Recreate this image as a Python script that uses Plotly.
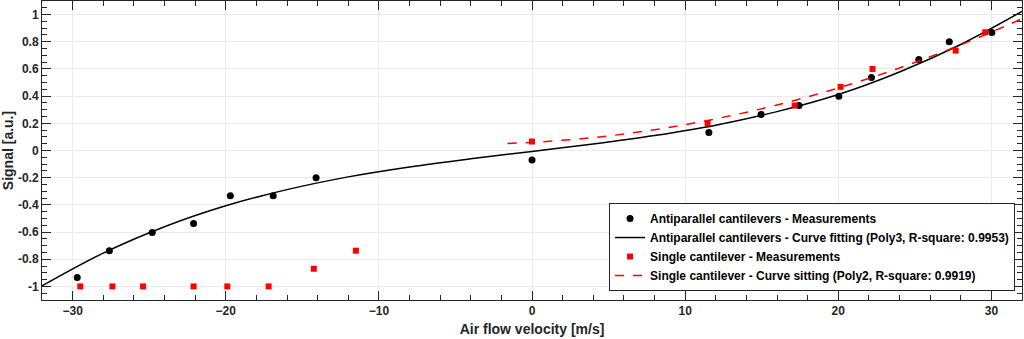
import plotly.graph_objects as go

# Antiparallel cantilevers - measurements
anti_x = [-29.7, -27.6, -24.8, -22.1, -19.7, -16.9, -14.1, 0.0,
          11.55, 14.96, 17.44, 20.04, 22.17, 25.26, 27.25, 30.03]
anti_y = [-0.935, -0.737, -0.603, -0.537, -0.333, -0.333, -0.201, -0.069,
          0.132, 0.265, 0.331, 0.400, 0.537, 0.669, 0.800, 0.868]

# Single cantilever - measurements
single_x = [-29.5, -27.4, -25.4, -22.1, -19.9, -17.2, -14.25, -11.5,
            0.0, 11.47, 17.15, 20.15, 22.24, 27.67, 29.6]
single_y = [-1.0, -1.0, -1.0, -1.0, -1.0, -1.0, -0.87, -0.737,
            0.066, 0.200, 0.331, 0.468, 0.600, 0.735, 0.870]

# Antiparallel cantilevers - fitted curve (Poly3)
anti_fit_x = [-32, -28, -24, -20, -16, -12, -8, -4, 0, 4, 8, 12, 16, 20, 24, 28, 32]
anti_fit_y = [-0.996, -0.755, -0.561, -0.407, -0.288, -0.194, -0.121, -0.061, -0.007,
              0.048, 0.11, 0.186, 0.286, 0.412, 0.578, 0.78, 1.023]

# Single cantilever - fitted curve (Poly2)
single_fit_x = [-1.6, 0, 4, 8, 12, 16, 20, 24, 28, 32]
single_fit_y = [0.052, 0.06, 0.095, 0.153, 0.233, 0.335, 0.46, 0.607, 0.777, 0.969]

x_ticks = [-30, -20, -10, 0, 10, 20, 30]
y_ticks = [-1, -0.8, -0.6, -0.4, -0.2, 0, 0.2, 0.4, 0.6, 0.8, 1]
y_tick_labels = ["-1", "-0.8", "-0.6", "-0.4", "-0.2", "0", "0.2", "0.4", "0.6", "0.8", "1"]

names = [
    "Antiparallel cantilevers - Measurements",
    "Antiparallel cantilevers - Curve fitting (Poly3, R-square: 0.9953)",
    "Single cantilever - Measurements",
    "Single cantilever - Curve sitting (Poly2, R-square: 0.9919)",
]

fig = go.Figure()
fig.add_trace(go.Scatter(x=anti_x, y=anti_y, mode="markers", name=names[0],
                         marker=dict(symbol="circle", size=7, color="black")))
fig.add_trace(go.Scatter(x=anti_fit_x, y=anti_fit_y, mode="lines", name=names[1],
                         line=dict(color="black", width=1.5, shape="spline", smoothing=1)))
fig.add_trace(go.Scatter(x=single_x, y=single_y, mode="markers", name=names[2],
                         marker=dict(symbol="square", size=6, color="#ff0000")))
fig.add_trace(go.Scatter(x=single_fit_x, y=single_fit_y, mode="lines", name=names[3],
                         line=dict(color="#ff0000", width=1.5, dash="dash", shape="spline", smoothing=1)))

axis_common = dict(
    showline=True, linecolor="#262626", linewidth=1, mirror="ticks",
    ticks="inside", ticklen=9, tickcolor="#262626", tickwidth=1,
    showgrid=True, gridcolor="#ebebeb", gridwidth=1, zeroline=False,
)

fig.update_xaxes(range=[-32, 32], tickvals=x_ticks,
                 title=dict(text="Air flow velocity [m/s]", standoff=6),
                 minor=dict(dtick=2, ticks="inside", ticklen=5, tickcolor="#262626", showgrid=False),
                 **axis_common)
fig.update_yaxes(range=[-1.1, 1.1], tickvals=y_ticks, ticktext=y_tick_labels,
                 title=dict(text="Signal [a.u.]", standoff=4),
                 minor=dict(dtick=0.05, ticks="inside", ticklen=5, tickcolor="#262626", showgrid=False),
                 **axis_common)

fig.update_layout(
    width=1024, height=339,
    margin=dict(l=42, r=2, t=1, b=39),
    paper_bgcolor="white", plot_bgcolor="white",
    font=dict(family="Liberation Sans, Arial, sans-serif", size=12, color="#262626", weight="bold"),
    showlegend=True,
    legend=dict(x=0.9929, y=0.03, xanchor="right", yanchor="bottom",
                bgcolor="white", bordercolor="#262626", borderwidth=1,
                font=dict(size=12, color="black", weight="bold"),
                tracegroupgap=0, itemwidth=30),
)

fig.write_html("out.html")
